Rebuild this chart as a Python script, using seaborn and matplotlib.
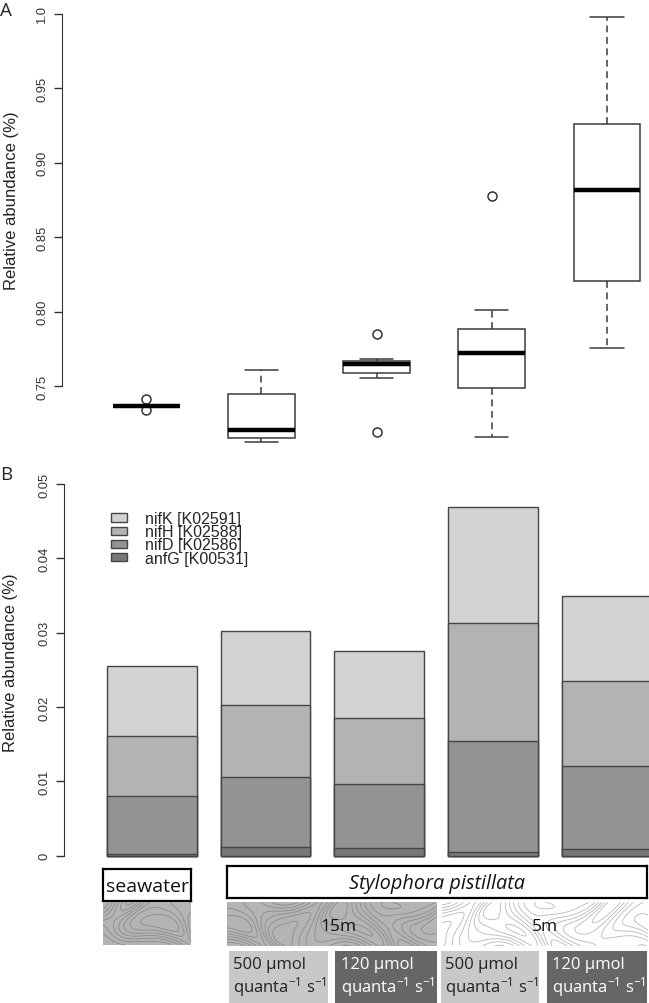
import numpy as np
import pandas as pd
import matplotlib
matplotlib.use("Agg")
import matplotlib.pyplot as plt
from matplotlib.patches import Patch
import seaborn as sns

# ---------------- data ----------------
groups = ["seawater", "15m 500", "15m 120", "5m 500", "5m 120"]

# Panel A: samples that reproduce the drawn boxes (whisker ends, hinges, medians, outliers)
abund_seawater = [0.7339, 0.7368, 0.7368, 0.7368, 0.7413]
abund_15m_500 = [0.7126, 0.7151, 0.7206, 0.7448, 0.7605]
abund_15m_120 = [0.7193, 0.7552, 0.7587, 0.7587, 0.7648, 0.7666, 0.7666, 0.7681, 0.7847]
abund_5m_500 = [0.7159, 0.7487, 0.7487, 0.7720, 0.7720, 0.7885, 0.7885, 0.8011, 0.8777]
abund_5m_120 = [0.7755, 0.8206, 0.8815, 0.9261, 0.9982]

# Panel B: stacked gene abundances
anfG = [0.00023, 0.00113, 0.00099, 0.00054, 0.00090]
nifD = [0.00780, 0.00950, 0.00870, 0.01485, 0.01121]
nifH = [0.00803, 0.00964, 0.00888, 0.01591, 0.01143]
nifK = [0.00942, 0.00991, 0.00897, 0.01565, 0.01143]
gene_labels = ["nifK [K02591]", "nifH [K02588]", "nifD [K02586]", "anfG [K00531]"]
gene_colors = ["#d3d3d3", "#b3b3b3", "#939393", "#787878"]

yticksA = [0.75, 0.80, 0.85, 0.90, 0.95, 1.0]
ytick_labelsA = ["0.75", "0.80", "0.85", "0.90", "0.95", "1.0"]
yticksB = [0, 0.01, 0.02, 0.03, 0.04, 0.05]
ytick_labelsB = ["0", "0.01", "0.02", "0.03", "0.04", "0.05"]
ylabel = "Relative abundance (%)"

source_labels = ["seawater", "Stylophora pistillata"]
depth_labels = ["15m", "5m"]
light_labels = ["500 μmol\nquanta$^{-1}$ s$^{-1}$", "120 μmol\nquanta$^{-1}$ s$^{-1}$",
                "500 μmol\nquanta$^{-1}$ s$^{-1}$", "120 μmol\nquanta$^{-1}$ s$^{-1}$"]

# ---------------- style ----------------
sns.set_style("ticks")
plt.rcParams["font.family"] = ["Liberation Sans", "DejaVu Sans"]
plt.rcParams["mathtext.fontset"] = "custom"
plt.rcParams["mathtext.rm"] = "Open Sans"
plt.rcParams["mathtext.it"] = "Open Sans:italic"
plt.rcParams["mathtext.bf"] = "Open Sans:bold"

W, H = 649, 1004
fig = plt.figure(figsize=(W / 100, H / 100), dpi=100)


def px_axes(x0, y0, x1, y1):
    return fig.add_axes([x0 / W, 1 - y1 / H, (x1 - x0) / W, (y1 - y0) / H])


AXC = "#333333"
LAB_FONT = ["Open Sans", "DejaVu Sans"]

# ---------------- panel A ----------------
axA = px_axes(61.7, 0.7, 649, 459.6)
samples = [abund_seawater, abund_15m_500, abund_15m_120, abund_5m_500, abund_5m_120]
dfA = pd.DataFrame({
    "group": np.repeat(groups, [len(s) for s in samples]),
    "value": np.concatenate(samples),
})
sns.boxplot(
    data=dfA, x="group", y="value", order=groups, ax=axA,
    width=0.58, color="white", linecolor="#3a3a3a", linewidth=1.1,
    whiskerprops=dict(linestyle=(0, (4.5, 3))),
    medianprops=dict(color="black", linewidth=3.2),
    flierprops=dict(marker="o", markersize=6.5, markerfacecolor="none",
                    markeredgecolor="#333333", markeredgewidth=1.1),
)
axA.set_xlim(-0.7335, 4.365)
axA.set_ylim(0.7012, 1.0096)
for s in ["top", "right", "bottom"]:
    axA.spines[s].set_visible(False)
axA.spines["left"].set_bounds(0.75, 1.0)
axA.spines["left"].set_color(AXC)
axA.set_xticks([])
axA.set_xlabel("")
axA.set_yticks(yticksA)
axA.set_yticklabels(ytick_labelsA)
axA.tick_params(axis="y", length=5.8, width=1, color=AXC, labelsize=9.4,
                pad=4, labelrotation=90, labelcolor="#333333")
for t in axA.get_yticklabels():
    t.set_va("center")
axA.set_ylabel(ylabel, fontsize=12, color="#222222")
axA.yaxis.set_label_coords(-0.073, 0.5635)

# ---------------- panel B ----------------
axB = px_axes(64, 470.1, 649, 871.6)
layer_vals = [nifK, nifH, nifD, anfG]
arr = np.array(layer_vals[::-1])           # bottom -> top order
cum = np.cumsum(arr, axis=0)[::-1]         # top layer cumulative first
for heights, col in zip(cum, gene_colors):
    sns.barplot(x=groups, y=heights, order=groups, color=col, saturation=1,
                edgecolor="#454545", linewidth=1, width=0.79, errorbar=None, ax=axB)
axB.set_xlim(-0.772, 4.371)
axB.set_ylim(-0.002, 0.052)
for s in ["top", "right", "bottom"]:
    axB.spines[s].set_visible(False)
axB.spines["left"].set_bounds(0, 0.05)
axB.spines["left"].set_color(AXC)
axB.set_xticks([])
axB.set_xlabel("")
axB.set_yticks(yticksB)
axB.set_yticklabels(ytick_labelsB)
axB.tick_params(axis="y", length=5.8, width=1, color=AXC, labelsize=9.4,
                pad=4, labelrotation=90, labelcolor="#333333")
for t in axB.get_yticklabels():
    t.set_va("center")
axB.set_ylabel(ylabel, fontsize=12, color="#222222")
axB.yaxis.set_label_coords(-0.078, 0.5196)

handles = [Patch(facecolor=c, edgecolor="#454545", linewidth=1) for c in gene_colors]
axB.legend(handles, gene_labels, loc="upper left", bbox_to_anchor=(0.0798, 0.895),
           frameon=False, fontsize=11.5, handlelength=1.05, handleheight=0.42,
           handletextpad=1.1, labelspacing=-0.12, borderpad=0, borderaxespad=0)

# panel letters
fig.text(0 / W, 1 - 16 / H, "A", fontsize=13.5, family=LAB_FONT, va="baseline", ha="left")
fig.text(0 / W, 1 - 480 / H, "B", fontsize=13.5, family=LAB_FONT, va="baseline", ha="left")


# ---------------- annotation strips ----------------
def plain(ax, face, edge=None, lw=0):
    ax.set_facecolor(face)
    ax.set_xticks([]); ax.set_yticks([])
    for s in ax.spines.values():
        if edge is None:
            s.set_visible(False)
        else:
            s.set_color(edge); s.set_linewidth(lw)
    ax.set_xlim(0, 1); ax.set_ylim(0, 1)


def texture(ax, face, line, shift):
    # decorative "topographic" background pattern
    plain(ax, face)
    w = ax.get_position().width * W
    h = ax.get_position().height * H
    gx = np.linspace(0, w / 22.0, 400)
    gy = np.linspace(0, h / 22.0, 120)
    X, Y = np.meshgrid(gx, gy)
    Xs = X + shift
    Z = (np.sin(1.3 * Xs + 1.8 * np.sin(1.5 * Y + 0.9 * np.cos(1.1 * Xs)))
         + 0.55 * np.cos(2.2 * Y + 1.4 * np.sin(0.8 * Xs)))
    ax.contour(X, Y, Z, levels=np.linspace(-1.2, 1.2, 7), colors=line,
               linewidths=0.6, linestyles="solid", negative_linestyles="solid")
    ax.set_xlim(gx[0], gx[-1]); ax.set_ylim(gy[0], gy[-1])


ax_sw = px_axes(103.3, 870, 191, 902.3)
plain(ax_sw, "white", "black", 1.6)
ax_sw.text(0.5, 0.47, source_labels[0], ha="center", va="center", fontsize=14,
           family=LAB_FONT, color="#111111")

ax_sp = px_axes(226.7, 866.7, 646.7, 899.3)
plain(ax_sp, "white", "black", 1.6)
ax_sp.text(0.5, 0.47, source_labels[1], ha="center", va="center", fontsize=14.3,
           family=LAB_FONT, style="italic", color="#111111")

ax_t0 = px_axes(103, 903.3, 191, 945.7)
texture(ax_t0, "#b4b4b4", "#8c8c8c", 0.0)

ax_t1 = px_axes(226.7, 903.3, 436.7, 946.7)
texture(ax_t1, "#b4b4b4", "#8c8c8c", 2.3)
ax_t1.text(0.53, 0.45, depth_labels[0], transform=ax_t1.transAxes, ha="center",
           va="center", fontsize=12.5, family=LAB_FONT, color="#111111")

ax_t2 = px_axes(441.7, 903.3, 648.3, 946.7)
texture(ax_t2, "white", "#b8b8b8", 5.1)
ax_t2.text(0.5, 0.45, depth_labels[1], transform=ax_t2.transAxes, ha="center",
           va="center", fontsize=12.5, family=LAB_FONT, color="#111111")

light_boxes = [(229.3, 327.7), (335.3, 436.7), (441, 539.3), (547.3, 647.3)]
light_faces = ["#c8c8c8", "#666666", "#c8c8c8", "#666666"]
light_text = ["#222222", "white", "#222222", "white"]
for (x0, x1), fc, tc, lab in zip(light_boxes, light_faces, light_text, light_labels):
    ax_l = px_axes(x0, 951.7, x1, 1004)
    plain(ax_l, fc)
    ax_l.text(0.52, 0.5, lab, ha="center", va="center", fontsize=12,
              family=LAB_FONT, color=tc, multialignment="left", linespacing=1.12)

fig.savefig("out.png", dpi=100)
